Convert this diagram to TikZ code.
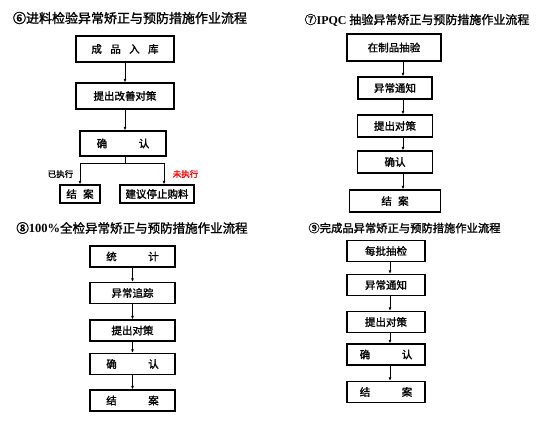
\documentclass[tikz,border=0pt]{standalone}
\usepackage{fontspec}
\setmainfont{Noto Sans CJK SC}[AutoFakeBold=1.5]
\newfontfamily\latinbf{Liberation Serif}
\usepackage{tikz}
\usetikzlibrary{arrows.meta,positioning,calc}
\usepackage{xcolor}

\begin{document}
\begin{tikzpicture}[x=1pt,y=-1pt,
    box/.style={draw,line width=1.3pt,inner sep=0pt,font=\bfseries\fontsize{10.5}{10.5}\selectfont},
    flow/.style={-{Latex[length=3.5pt,width=3pt]},line width=0.8pt},
    link/.style={line width=0.8pt},
    ttl/.style={inner sep=0pt,font=\bfseries\fontsize{12.5}{12.5}\selectfont},
    lbl/.style={inner sep=0pt,font=\bfseries\fontsize{8.5}{8.5}\selectfont}]
                    \useasboundingbox (0,0) rectangle (537,420);
                    % panel 6
                    \node[ttl,font=\bfseries\fontsize{13}{13}\selectfont] (t6) at (130,18) {⑥进料检验异常矫正与预防措施作业流程};
                    \node[box,minimum width=98,minimum height=26] (a1) at (125,49) {成\hspace{0.8em}品\hspace{0.8em}入\hspace{0.8em}库};
                    \node[box,minimum width=98,minimum height=26] (a2) at (125,96) {提出改善对策};
                    \node[box,minimum width=86,minimum height=25] (a3) at (123,143.5) {确\hspace{3em}认};
                    \node[box,minimum width=40,minimum height=18] (a4) at (80,194) {结\hspace{0.6em}案};
                    \node[box,minimum width=74,minimum height=18] (a5) at (157,194) {建议停止购料};
                    \draw[flow] (a1) -- (a2);
                    \draw[flow] (a2) -- (a2 |- a3.north);
                    \coordinate (splitL) at (80,163);
                    \coordinate (splitR) at (164,163);
                    \draw[link] ([xshift=2pt]a3.south) -- ([xshift=2pt]a3.south |- splitL);
                    \draw[link] (splitL) -- (splitR);
                    \draw[flow] (splitL) -- (a4.north);
                    \draw[flow] (splitR) -- (splitR |- a5.north);
                    \node[lbl] (done) at (60.5,174) {已执行};
                    \node[lbl,text=red] (undone) at (185.5,174) {未执行};
                    % panel 7
                    \node[ttl,font=\bfseries\fontsize{12}{12}\selectfont] (t7) at (417,20) {⑦{\latinbf\bfseries IPQC} 抽验异常矫正与预防措施作业流程};
                    \node[box,minimum width=94,minimum height=27] (b1) at (394,47.5) {在制品抽验};
                    \node[box,minimum width=74,minimum height=22] (b2) at (395,88) {异常通知};
                    \node[box,minimum width=75,minimum height=22] (b3) at (395,126) {提出对策};
                    \node[box,minimum width=75,minimum height=22] (b4) at (395,162) {确认};
                    \node[box,minimum width=91,minimum height=22] (b5) at (395,201) {结\hspace{0.6em}案};
                    \draw[flow] ([xshift=9pt]b1.south) -- ([xshift=8pt]b2.north);
                    \draw[flow] ([xshift=8pt]b2.south) -- ([xshift=8pt]b3.north);
                    \draw[flow] ([xshift=8pt]b3.south) -- ([xshift=8pt]b4.north);
                    \draw[flow] ([xshift=8pt]b4.south) -- ([xshift=8pt]b5.north);
                    % panel 8
                    \node[ttl,font=\bfseries\fontsize{12.5}{12.5}\selectfont] (t8) at (132,228) {⑧{\latinbf\bfseries 100\%}全检异常矫正与预防措施作业流程};
                    \node[box,minimum width=85,minimum height=21] (c1) at (132.5,256.5) {统\hspace{3em}计};
                    \node[box,minimum width=85,minimum height=21] (c2) at (132.5,293) {异常追踪};
                    \node[box,minimum width=85,minimum height=21] (c3) at (132.5,330.5) {提出对策};
                    \node[box,minimum width=85,minimum height=21] (c4) at (132.5,364) {确\hspace{3em}认};
                    \node[box,minimum width=85,minimum height=21] (c5) at (132.5,400.5) {结\hspace{3em}案};
                    \foreach \u/\v in {c1/c2,c2/c3,c3/c4,c4/c5}
                        \draw[flow] (\u) -- (\v);
                    % panel 9
                    \node[ttl,font=\bfseries\fontsize{11.3}{11.3}\selectfont] (t9) at (404.5,228) {⑨完成品异常矫正与预防措施作业流程};
                    \node[box,minimum width=78,minimum height=21] (d1) at (386,251) {每批抽检};
                    \node[box,minimum width=78,minimum height=21] (d2) at (386,285) {异常通知};
                    \node[box,minimum width=78,minimum height=21] (d3) at (386,322) {提出对策};
                    \node[box,minimum width=78,minimum height=21] (d4) at (386,354.5) {确\hspace{3em}认};
                    \node[box,minimum width=78,minimum height=21] (d5) at (386,392) {结\hspace{3em}案};
                    \foreach \u/\v in {d1/d2,d2/d3,d3/d4,d4/d5}
                        \draw[flow] ([xshift=4pt]\u.south) -- ([xshift=4pt]\v.north);
                \end{tikzpicture}
\end{document}
